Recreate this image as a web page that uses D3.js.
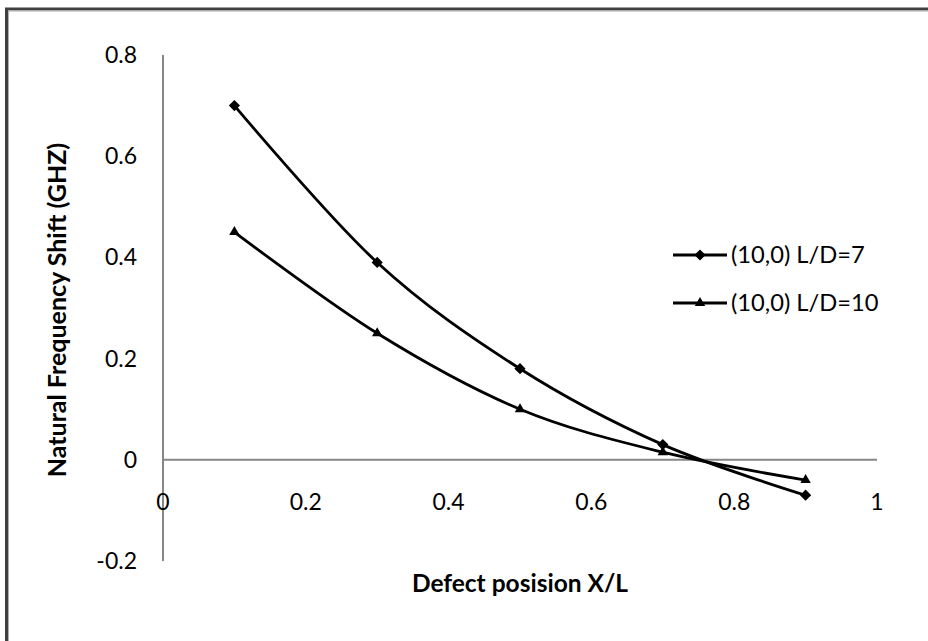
<!DOCTYPE html>
<html><head><meta charset="utf-8">
<script src="https://cdn.jsdelivr.net/npm/d3@7"></script>
<style>body{margin:0;background:#fff}svg{display:block}text{font-family:Lato,"Open Sans",sans-serif;fill:#000}</style>
</head><body><svg id="c" width="928" height="641"></svg>
<script>
const xPos = [0.1, 0.3, 0.5, 0.7, 0.9];
const seriesLD7 = [0.70, 0.39, 0.18, 0.03, -0.07];
const seriesLD10 = [0.45, 0.25, 0.10, 0.015, -0.04];
const seriesNames = ["(10,0) L/D=7", "(10,0) L/D=10"];
const xTicks = [0, 0.2, 0.4, 0.6, 0.8, 1];
const yTicks = [-0.2, 0, 0.2, 0.4, 0.6, 0.8];
const xTitle = "Defect posision X/L";
const yTitle = "Natural Frequency Shift (GHZ)";

const svg = d3.select("#c");
// chart border
svg.append("rect").attr("x",6.5).attr("y",9).attr("width",1000).attr("height",1000)
  .attr("fill","none").attr("stroke","#404040").attr("stroke-width",3);
svg.append("rect").attr("x",8.5).attr("y",11).attr("width",1000).attr("height",1000)
  .attr("fill","none").attr("stroke","#b0b0b0").attr("stroke-width",1);

const x = d3.scaleLinear().domain([0,1]).range([163,877]);
const y = d3.scaleLinear().domain([-0.2,0.8]).range([561,55]);

// axes lines
svg.append("line").attr("x1",x(0)).attr("x2",x(0)).attr("y1",y(0.8)).attr("y2",y(-0.2))
  .attr("stroke","#868686").attr("stroke-width",2);
svg.append("line").attr("x1",x(0)).attr("x2",x(1)).attr("y1",y(0)).attr("y2",y(0))
  .attr("stroke","#868686").attr("stroke-width",2);

// tick labels
svg.selectAll(".yt").data(yTicks).enter().append("text")
  .attr("x",137).attr("y",d=>y(d)).attr("dy","0.35em").attr("text-anchor","end")
  .attr("font-size",23).text(d=>String(d));
svg.selectAll(".xt").data(xTicks).enter().append("text")
  .attr("x",d=>x(d)).attr("y",502).attr("dy","0.35em").attr("text-anchor","middle")
  .attr("font-size",23).text(d=>String(d));

// titles
svg.append("text").attr("x",520).attr("y",583).attr("dy","0.35em").attr("text-anchor","middle")
  .attr("font-size",24.5).attr("font-weight","bold").text(xTitle);
svg.append("text").attr("transform","translate(57,310) rotate(-90)").attr("dy","0.35em")
  .attr("text-anchor","middle").attr("font-size",25).attr("font-weight","bold").text(yTitle);

const line = d3.line().x(d=>x(d[0])).y(d=>y(d[1])).curve(d3.curveCardinal.tension(0));
const diamond = d3.symbol().type(d3.symbolDiamond2).size(80);
const triangle = d3.symbol().type(d3.symbolTriangle2).size(78);

const series = [
  {name:seriesNames[0], vals:seriesLD7, sym:diamond},
  {name:seriesNames[1], vals:seriesLD10, sym:triangle}
];
series.forEach((s,i)=>{
  const pts = xPos.map((v,j)=>[v,s.vals[j]]);
  svg.append("path").attr("d",line(pts)).attr("fill","none").attr("stroke","#000").attr("stroke-width",2.8);
  svg.selectAll(".m"+i).data(pts).enter().append("path")
    .attr("transform",d=>`translate(${x(d[0])},${y(d[1])})`).attr("d",s.sym()).attr("fill","#000");
  const ly = 255 + i*48;
  svg.append("line").attr("x1",673).attr("x2",727).attr("y1",ly).attr("y2",ly).attr("stroke","#000").attr("stroke-width",2.8);
  svg.append("path").attr("transform",`translate(700,${ly})`).attr("d",s.sym()).attr("fill","#000");
  svg.append("text").attr("x",731).attr("y",ly).attr("dy","0.35em").attr("font-size",23.7).text(s.name);
});
</script></body></html>
